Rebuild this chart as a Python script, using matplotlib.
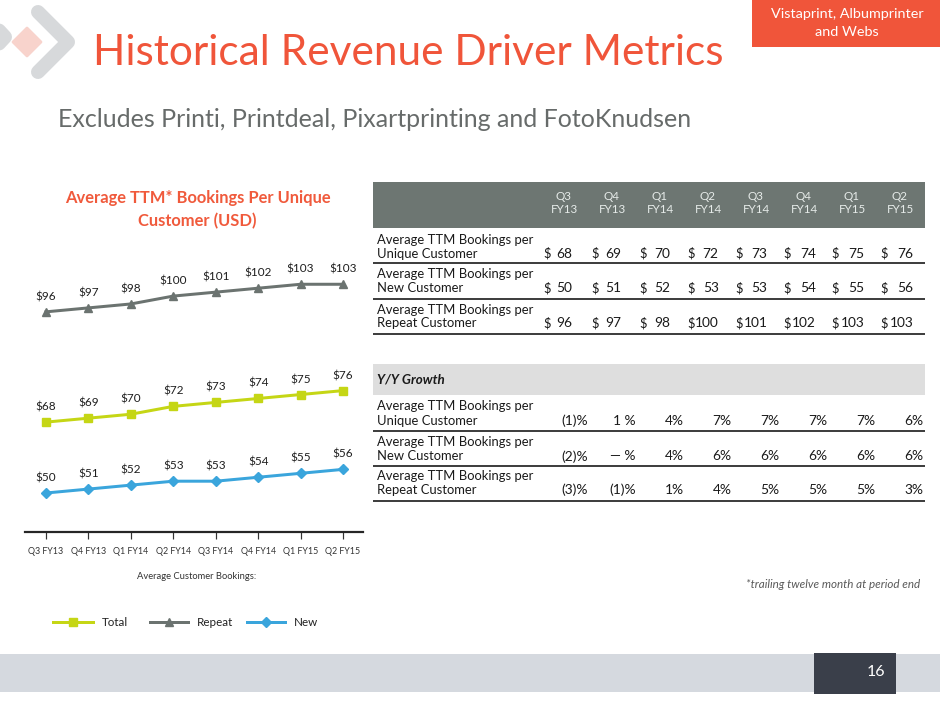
import matplotlib
matplotlib.use('Agg')
import matplotlib.pyplot as plt
import numpy as np
from matplotlib.patches import Rectangle, Polygon

# ---------------- data ----------------
quarters = ['Q3 FY13', 'Q4 FY13', 'Q1 FY14', 'Q2 FY14', 'Q3 FY14', 'Q4 FY14', 'Q1 FY15', 'Q2 FY15']
total = [68, 69, 70, 72, 73, 74, 75, 76]
repeat = [96, 97, 98, 100, 101, 102, 103, 103]
new = [50, 51, 52, 53, 53, 54, 55, 56]

row_labels = [('Average TTM Bookings per', 'Unique Customer'),
              ('Average TTM Bookings per', 'New Customer'),
              ('Average TTM Bookings per', 'Repeat Customer')]
yoy_unique = [-1, 1, 4, 7, 7, 7, 7, 6]
yoy_new = [-2, 0, 4, 6, 6, 6, 6, 6]
yoy_repeat = [-3, -1, 1, 4, 5, 5, 5, 3]

title = 'Historical Revenue Driver Metrics'
subtitle = 'Excludes Printi, Printdeal, Pixartprinting and FotoKnudsen'
tag = ['Vistaprint, Albumprinter', 'and Webs']
chart_title = ['Average TTM* Bookings Per Unique', 'Customer (USD)']
x_title = 'Average Customer Bookings:'
legend_labels = ['Total', 'Repeat', 'New']
footnote = '*trailing twelve month at period end'
page = '16'

# ---------------- setup ----------------
plt.rcParams['font.family'] = ['Lato', 'DejaVu Sans']
W, H = 940, 705
fig = plt.figure(figsize=(9.4, 7.05), dpi=100)
fig.patch.set_facecolor('white')
bg = fig.add_axes([0, 0, 1, 1])
bg.set_xlim(0, W)
bg.set_ylim(H, 0)
bg.axis('off')
R = fig.canvas.get_renderer()
PT = 0.72  # points per pixel


def size_for(s, width, **kw):
    t = bg.text(0, 0, s, fontsize=10, **kw)
    w = t.get_window_extent(renderer=R).width
    t.remove()
    return 10 * width / w


def txt(x, y, s, width=None, size=10, **kw):
    if width is not None:
        size = size_for(s, width, **{k: v for k, v in kw.items() if k in ('fontweight', 'fontstyle')})
    return bg.text(x, y, s, fontsize=size, **kw)


ORANGE = '#F0553A'

# logo
bg.plot([38, 68, 38], [12, 42, 72], color='#D7D9DB', lw=14 * PT,
        solid_capstyle='round', solid_joinstyle='round', zorder=1)
bg.plot([-20, 5, -20], [10, 37, 64], color='#D7D9DB', lw=14 * PT,
        solid_capstyle='round', solid_joinstyle='round', zorder=1)
bg.add_patch(Polygon([(27, 28), (41, 42), (27, 56), (13, 42)], closed=True,
                     facecolor='#F8D3CC', edgecolor='#F8D3CC', lw=2, joinstyle='round', zorder=2))

# title and subtitle
txt(93, 65, title, width=632, color=ORANGE, va='baseline', ha='left', zorder=3)
txt(58, 126.7, subtitle, width=636, color='#676B6A', va='baseline', ha='left')

# tag box
bg.add_patch(Rectangle((752, 0), 188, 47, facecolor=ORANGE, edgecolor='none'))
tag_size = size_for(tag[0], 153)
txt(847, 13.5, tag[0], size=tag_size, color='white', ha='center', va='center')
txt(847, 32, tag[1], size=tag_size, color='white', ha='center', va='center')

# ---------------- chart ----------------
ax = fig.add_axes([25 / W, 1 - 532 / H, 338 / W, (532 - 250) / H])
ax.set_facecolor('none')
x = np.arange(len(quarters))
ax.set_xlim(-0.495, 7.471)
ax.set_ylim(40.1, 111.7)
l_total, = ax.plot(x, total, color='#C5D615', lw=3 * PT, marker='s', ms=8.3 * PT,
                   zorder=3)
l_repeat, = ax.plot(x, repeat, color='#6B7370', lw=3 * PT, marker='^', ms=8.5 * PT,
                    zorder=3)
l_new, = ax.plot(x, new, color='#3AA5DC', lw=3 * PT, marker='D', ms=7 * PT,
                 zorder=3)
lab_size = size_for('$96', 20.5)
for series in (total, repeat, new):
    for i, v in enumerate(series):
        ax.annotate(f'${v}', (i, v), xytext=(0, 15 * PT), textcoords='offset points',
                    ha='center', va='center', fontsize=lab_size, color='#1E1E1E')
for s in ('top', 'left', 'right'):
    ax.spines[s].set_visible(False)
ax.spines['bottom'].set_linewidth(2.2 * PT)
ax.spines['bottom'].set_color('#262626')
ax.set_yticks([])
ax.set_xticks(x)
tick_size = size_for('Q3 FY13', 35)
ax.set_xticklabels(quarters, fontsize=tick_size, color='#333333')
ax.tick_params(axis='x', direction='out', length=7 * PT, width=1.2 * PT,
               color='#333333', pad=8 * PT)

ct_size = size_for(chart_title[0], 268, fontweight='bold')
txt(197.5, 198.5, chart_title[0], size=ct_size, fontweight='bold', color='#F05A3C',
    ha='center', va='center')
txt(197.5, 221, chart_title[1], size=ct_size, fontweight='bold', color='#F05A3C',
    ha='center', va='center')
txt(197, 576.7, x_title, width=120, color='#333333', ha='center', va='center')

# legend: one entry per legend box, placed at the reference positions
leg_size = (size_for('Total', 25) + size_for('Repeat', 37) + size_for('New', 25)) / 3
leg_px = leg_size / PT
leg_starts = [53, 150, 247]
leg_hlen = [40, 38, 38]
for h, lab, sx, hl in zip([l_total, l_repeat, l_new], legend_labels, leg_starts, leg_hlen):
    fig.legend([h], [lab], loc='center left', bbox_to_anchor=(sx / W, 1 - 622.7 / H),
               frameon=False, fontsize=leg_size, handlelength=hl / leg_px,
               handletextpad=9 / leg_px, borderpad=0, borderaxespad=0,
               numpoints=1, labelcolor='#222222')

# ---------------- table ----------------
TL, TR = 373, 924.5
TXT = '#1A1A1A'
bg.add_patch(Rectangle((TL, 181.7), TR - TL, 46, facecolor='#6D7672', edgecolor='none'))
head_x = np.linspace(564, 900, 8)
lbl_size = size_for(row_labels[0][0], 156)
head_size = size_for('FY13', 27)
for cx, q in zip(head_x, quarters):
    a, b = q.split(' ')
    txt(cx, 196, a, size=head_size, color='#E6EBE9', ha='center', va='center')
    txt(cx, 209.5, b, size=head_size, color='#E6EBE9', ha='center', va='center')

dollar_rows = [total, new, repeat]
row_y = [(240, 253.5), (274, 288), (309.5, 323)]
sep_y = [263.3, 298.5, 333.5]
dol_x = np.linspace(543, 880, 8)
num_x = np.linspace(572.5, 913.3, 8)
for (l1, l2), (y1, y2), sy, vals in zip(row_labels, row_y, sep_y, dollar_rows):
    txt(377, y1, l1, size=lbl_size, color=TXT, ha='left', va='center')
    txt(377, y2, l2, size=lbl_size, color=TXT, ha='left', va='center')
    for dx, nx, v in zip(dol_x, num_x, vals):
        txt(dx, y2, '$', size=lbl_size, color=TXT, ha='left', va='center')
        txt(nx, y2, f'{v}', size=lbl_size * 1.06, color=TXT, ha='right', va='center')
    bg.plot([TL, TR], [sy, sy], color='#2B2B2B', lw=1.8 * PT, solid_capstyle='butt')

# Y/Y growth
bg.add_patch(Rectangle((TL, 364), TR - TL, 31.3, facecolor='#DEDEDE', edgecolor='none'))
txt(377, 379.5, 'Y/Y Growth', width=67.7, fontweight='bold', fontstyle='italic',
    color=TXT, ha='left', va='center')
yoy_rows = [yoy_unique, yoy_new, yoy_repeat]
cols_neg = [any(r[j] < 0 for r in yoy_rows) for j in range(8)]


def fmt_pct(v, pad):
    if v < 0:
        return f'({-v})%'
    if v == 0:
        return '\u2014 %'
    return f'{v} %' if pad else f'{v}%'


pct_x = np.linspace(587.7, 923.3, 8)
row_y2 = [(406.5, 421), (441.5, 456.5), (476.5, 490)]
sep_y2 = [431, 465.7, 500.5]
for (l1, l2), (y1, y2), sy, vals in zip(row_labels, row_y2, sep_y2, yoy_rows):
    txt(377, y1, l1, size=lbl_size, color=TXT, ha='left', va='center')
    txt(377, y2, l2, size=lbl_size, color=TXT, ha='left', va='center')
    for j, (px, v) in enumerate(zip(pct_x, vals)):
        pad = cols_neg[j] and not all(r[j] < 0 for r in yoy_rows)
        txt(px, y2, fmt_pct(v, pad), size=lbl_size * 1.06, color=TXT, ha='right', va='center')
    bg.plot([TL, TR], [sy, sy], color='#2B2B2B', lw=1.8 * PT, solid_capstyle='butt')

# footnote
txt(920, 585, footnote, width=174, fontstyle='italic', color='#595959',
    ha='right', va='center')

# footer
bg.add_patch(Rectangle((0, 654), W, 38, facecolor='#D5D9DF', edgecolor='none'))
bg.add_patch(Rectangle((814, 653), 82, 41, facecolor='#3A3F4A', edgecolor='none'))
txt(876, 672, page, size=11.5, color='white', ha='center', va='center')

fig.savefig('out.png', dpi=100, facecolor='white')
